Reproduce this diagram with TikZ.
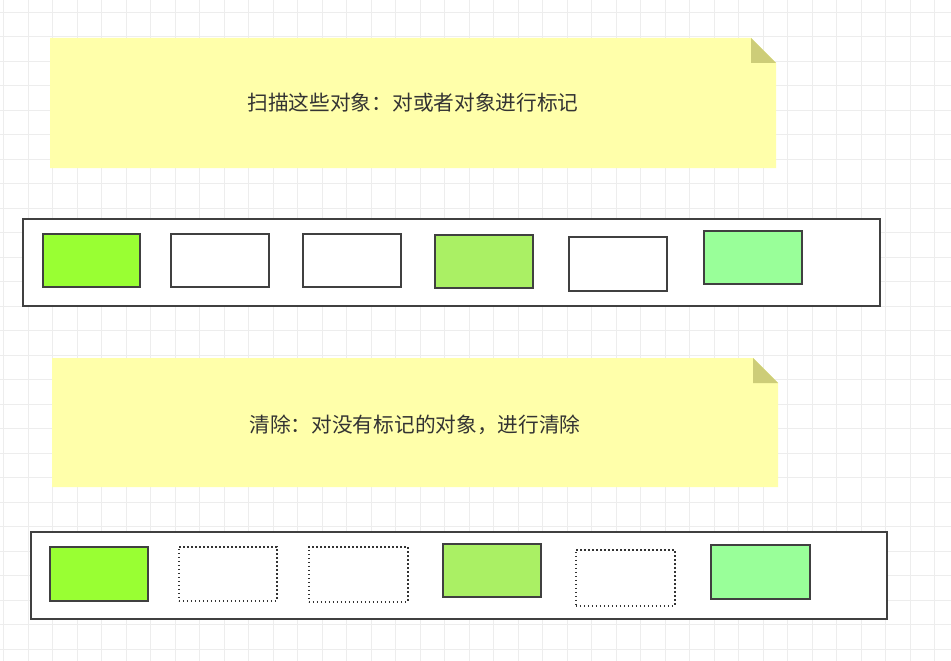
\documentclass[tikz,border=0pt]{standalone}
\usepackage{fontspec}
\newfontfamily\cjk{Noto Sans CJK SC}
\begin{document}
\begin{tikzpicture}[x=1pt,y=-1pt,
  note/.style={fill={rgb,255:red,255;green,255;blue,170}, draw=none},
  fold/.style={fill={rgb,255:red,205;green,205;blue,120}},
  cont/.style={draw=black!75, line width=1.6pt, fill=white},
  obj/.style={draw=black!75, line width=1.6pt},
  gone/.style={draw=black!80, line width=1.6pt, dash pattern=on 1.6pt off 2.4pt},
  txt/.style={font=\cjk\fontsize{20.7}{23}\selectfont, text=black!80}]
\useasboundingbox (0,0) rectangle (951,661);
\fill[white] (0,0) rectangle (951,661);
\foreach \i in {0,...,38} {\draw[black!7, line width=0.6pt] (3.5+\i*24.5,0) -- (3.5+\i*24.5,661);}
\foreach \i in {0,...,27} {\draw[black!7, line width=0.6pt] (0,12+\i*24.5) -- (951,12+\i*24.5);}
\definecolor{g1}{RGB}{153,255,51}
\definecolor{g2}{RGB}{170,240,100}
\definecolor{g3}{RGB}{153,255,153}
% note 1
\path[note] (50,38) -- (751,38) -- (776,63) -- (776,168) -- (50,168) -- cycle;
\path[fold] (751,38) -- (776,63) -- (751,63) -- cycle;
\node[txt] (n1) at (413,103) {扫描这些对象：对或者对象进行标记};
% container 1
\draw[cont] (23,219) rectangle (880,306);
\node[obj, fill=g1, minimum width=97pt, minimum height=53pt, anchor=north west, inner sep=0] (a1) at (42,233) {};
\node[obj, fill=white, minimum width=98pt, minimum height=53pt, anchor=north west, inner sep=0] (a2) at (170,233) {};
\node[obj, fill=white, minimum width=98pt, minimum height=53pt, anchor=north west, inner sep=0] (a3) at (302,233) {};
\node[obj, fill=g2, minimum width=98pt, minimum height=53pt, anchor=north west, inner sep=0] (a4) at (434,234) {};
\node[obj, fill=white, minimum width=98pt, minimum height=54pt, anchor=north west, inner sep=0] (a5) at (568,236) {};
\node[obj, fill=g3, minimum width=98pt, minimum height=53pt, anchor=north west, inner sep=0] (a6) at (703,230) {};
% note 2
\path[note] (52,358) -- (753,358) -- (778,383) -- (778,487) -- (52,487) -- cycle;
\path[fold] (753,358) -- (778,383) -- (753,383) -- cycle;
\node[txt] (n2) at (415,425) {清除：对没有标记的对象，进行清除};
% container 2
\draw[cont] (31,532) rectangle (887,619);
\node[obj, fill=g1, minimum width=98pt, minimum height=54pt, anchor=north west, inner sep=0] (b1) at (49,546) {};
\node[gone, minimum width=98pt, minimum height=54pt, anchor=north west, inner sep=0] (b2) at (178,546) {};
\node[gone, minimum width=99pt, minimum height=55pt, anchor=north west, inner sep=0] (b3) at (308,546) {};
\node[obj, fill=g2, minimum width=98pt, minimum height=53pt, anchor=north west, inner sep=0] (b4) at (442,543) {};
\node[gone, minimum width=99pt, minimum height=56pt, anchor=north west, inner sep=0] (b5) at (575,549) {};
\node[obj, fill=g3, minimum width=99pt, minimum height=54pt, anchor=north west, inner sep=0] (b6) at (710,544) {};
\end{tikzpicture}
\end{document}
